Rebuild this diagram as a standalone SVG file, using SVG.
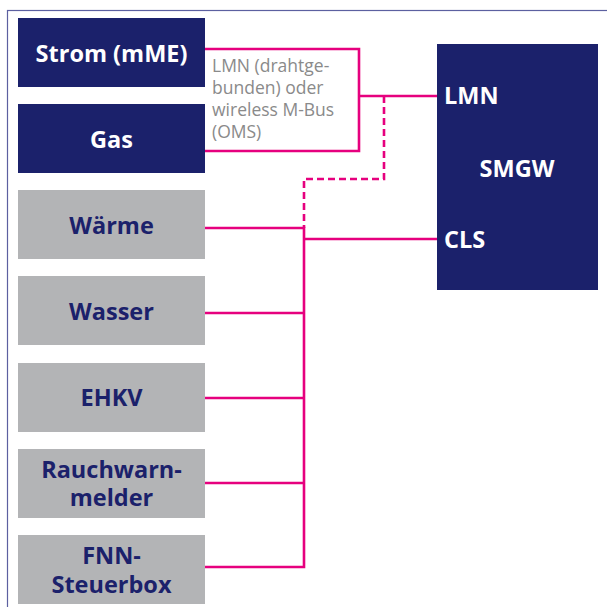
<svg xmlns="http://www.w3.org/2000/svg" width="607" height="607" viewBox="0 0 607 607">
<style>
.navy{fill:#1b216b}
.gray{fill:#b3b4b6}
.tw{font-family:"Open Sans","Noto Sans",sans-serif;font-weight:700;font-size:23.5px;fill:#ffffff;text-anchor:middle}
.tn{font-family:"Open Sans","Noto Sans",sans-serif;font-weight:700;font-size:23.5px;fill:#1b216b;text-anchor:middle}
.tl{font-family:"Open Sans","Noto Sans",sans-serif;font-weight:700;font-size:23.5px;fill:#ffffff}
.lbl{font-family:"Open Sans","Noto Sans",sans-serif;font-size:17.5px;fill:#8a8a8a}
.c{fill:none;stroke:#e6007e;stroke-width:2.6}
.d{fill:none;stroke:#e6007e;stroke-width:2.6;stroke-dasharray:7 4}
</style>
<rect x="7.5" y="10.5" width="640" height="640" fill="#ffffff" stroke="#5c60a0" stroke-width="1.2"/>
<g id="connectors">
<polyline class="c" points="205,49 359,49 359,151 205,151"/>
<line class="c" x1="359" y1="96" x2="437" y2="96"/>
<polyline class="d" points="384,96 384,179 304,179 304,228"/>
<polyline class="c" points="205,228 304,228 304,567 205,567"/>
<line class="c" x1="304" y1="239" x2="437" y2="239"/>
<line class="c" x1="205" y1="313" x2="304" y2="313"/>
<line class="c" x1="205" y1="398" x2="304" y2="398"/>
<line class="c" x1="205" y1="483" x2="304" y2="483"/>
</g>
<g id="label-lmn">
<text class="lbl" x="212" y="72">LMN (drahtge-</text>
<text class="lbl" x="212" y="94">bunden) oder</text>
<text class="lbl" x="212" y="116">wireless M-Bus</text>
<text class="lbl" x="212" y="138">(OMS)</text>
</g>
<g id="strom"><rect class="navy" x="18" y="18" width="187" height="69"/><text class="tw" x="111.5" y="62">Strom (mME)</text></g>
<g id="gas"><rect class="navy" x="18" y="104" width="187" height="69"/><text class="tw" x="111.5" y="148">Gas</text></g>
<g id="waerme"><rect class="gray" x="18" y="190" width="187" height="69"/><text class="tn" x="111.5" y="234">Wärme</text></g>
<g id="wasser"><rect class="gray" x="18" y="276" width="187" height="69"/><text class="tn" x="111.5" y="320">Wasser</text></g>
<g id="ehkv"><rect class="gray" x="18" y="363" width="187" height="69"/><text class="tn" x="111.5" y="406">EHKV</text></g>
<g id="rauchwarnmelder"><rect class="gray" x="18" y="449" width="187" height="69"/><text class="tn" x="111.5" y="477.5">Rauchwarn-</text><text class="tn" x="111.5" y="506">melder</text></g>
<g id="fnn"><rect class="gray" x="18" y="535" width="187" height="69"/><text class="tn" x="111.5" y="563.5">FNN-</text><text class="tn" x="111.5" y="592.5">Steuerbox</text></g>
<g id="smgw"><rect class="navy" x="437" y="44" width="161" height="246"/>
<text class="tl" x="444" y="103.5">LMN</text>
<text class="tw" x="517" y="177">SMGW</text>
<text class="tl" x="444" y="248">CLS</text></g>
</svg>
